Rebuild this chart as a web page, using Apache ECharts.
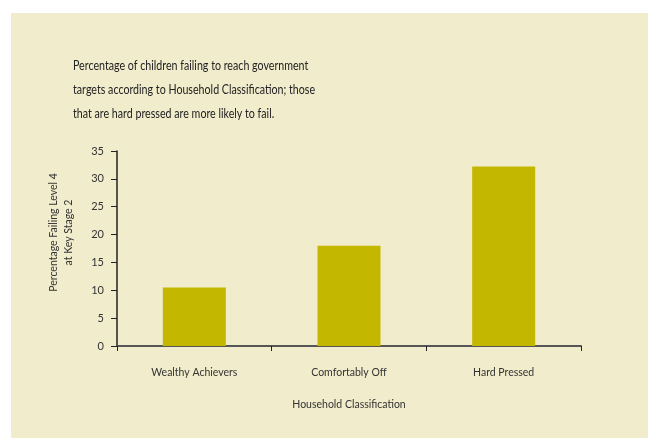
<!DOCTYPE html>
<html><head><meta charset="utf-8">
<script src="https://cdn.jsdelivr.net/npm/echarts@6/dist/echarts.min.js"></script>
<style>html,body{margin:0;padding:0;background:#fff}#c{width:648px;height:438px}</style>
</head><body><div id="c"></div>
<script>
const categories = ['Wealthy Achievers', 'Comfortably Off', 'Hard Pressed'];
const values = [10.5, 18, 32.2];
const yTicks = [0, 5, 10, 15, 20, 25, 30, 35];
const titleLines = ['Percentage of children failing to reach government', 'targets according to Household Classification; those', 'that are hard pressed are more likely to fail.'];

const font = 'Lato, "Open Sans", sans-serif';
const chart = echarts.init(document.getElementById('c'));
chart.setOption({
  animation: false,
  backgroundColor: '#ffffff',
  graphic: [{
    type: 'rect', left: 11, top: 13, z: -10,
    shape: {width: 640, height: 430},
    style: {fill: '#F1ECCB'}
  }, {
    type: 'text', x: 73, y: 54, scaleX: 0.82, z: 10,
    style: {
      text: titleLines.join('\n'),
      font: '13px Lato, "Open Sans", sans-serif',
      fill: '#222', lineHeight: 24, align: 'left', verticalAlign: 'top'
    }
  }],
  grid: {left: 117, right: 67, top: 151, bottom: 92},
  xAxis: {
    type: 'category', data: categories,
    name: 'Household Classification', nameLocation: 'middle', nameGap: 53,
    nameTextStyle: {fontFamily: font, fontSize: 10.5, color: '#333'},
    axisLine: {lineStyle: {color: '#555', width: 2}},
    axisTick: {show: true, length: 5, lineStyle: {color: '#222', width: 1}},
    axisLabel: {fontFamily: font, fontSize: 10.5, color: '#333', margin: 21}
  },
  yAxis: {
    type: 'value', min: 0, max: 35, interval: 5,
    name: 'Percentage Failing Level 4\nat Key Stage 2', nameLocation: 'middle', nameGap: 41, nameRotate: 90,
    nameTextStyle: {fontFamily: font, fontSize: 10.5, color: '#333', lineHeight: 15, padding: [0, 0, 0, 32]},
    axisLine: {show: true, lineStyle: {color: '#222', width: 1.5}},
    axisTick: {show: true, length: 6, lineStyle: {color: '#222'}},
    axisLabel: {fontFamily: font, fontSize: 11, color: '#333', margin: 13,
      formatter: v => yTicks.includes(v) ? String(v) : ''},
    splitLine: {show: false}
  },
  series: [{
    type: 'bar', data: values, barWidth: 63,
    itemStyle: {color: '#C3B700'}
  }]
});
</script></body></html>
